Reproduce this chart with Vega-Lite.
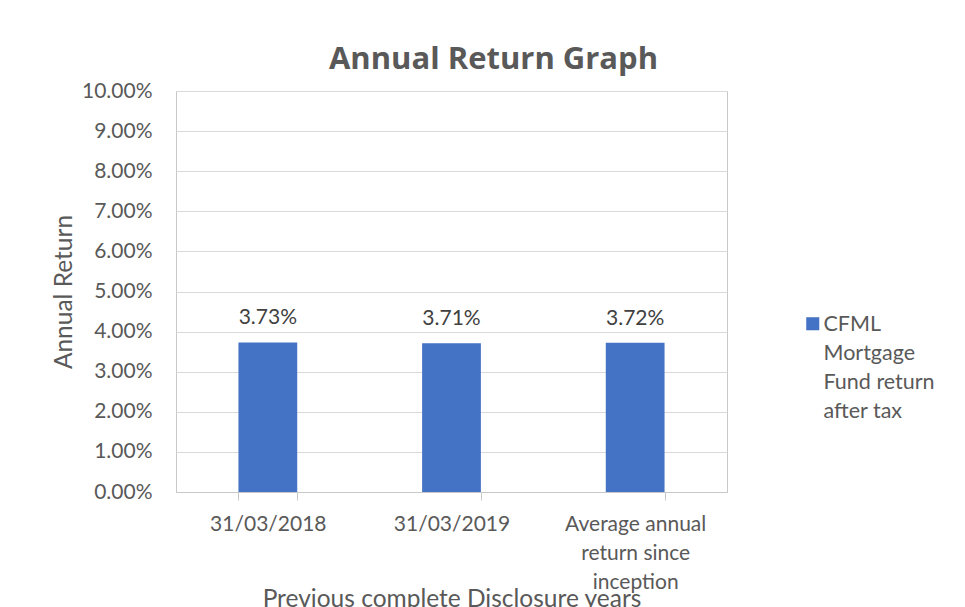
{
  "$schema": "https://vega.github.io/schema/vega-lite/v6.json",
  "autosize": {"type": "none"},
  "width": 551,
  "height": 401,
  "padding": {"left": 176, "top": 91, "right": 238, "bottom": 115},
  "background": "white",
  "config": {
    "font": "Lato",
    "view": {"stroke": "#c8c8c8", "strokeWidth": 1}
  },
  "title": {
    "text": "Annual Return Graph",
    "font": "Open Sans",
    "fontSize": 31,
    "fontWeight": "bold",
    "color": "#595959",
    "anchor": "middle",
    "dx": 42,
    "offset": 4
  },
  "data": {
    "values": [
      {"period": "31/03/2018", "value": 0.0373, "series": "CFML Mortgage Fund return after tax"},
      {"period": "31/03/2019", "value": 0.0371, "series": "CFML Mortgage Fund return after tax"},
      {"period": "Average annual return since inception", "value": 0.0372, "series": "CFML Mortgage Fund return after tax"}
    ]
  },
  "encoding": {
    "x": {
      "field": "period",
      "type": "nominal",
      "sort": null,
      "scale": {"paddingInner": 0.68, "paddingOuter": 0.34},
      "axis": {
        "title": "Previous complete Disclosure years",
        "titleFont": "Lato",
        "titleFontSize": 24.5,
        "titleFontWeight": "normal",
        "titleColor": "#595959",
        "titleBaseline": "alphabetic",
        "titleY": 114,
        "labelAngle": 0,
        "labelFont": "Lato",
        "labelFontSize": 21,
        "labelColor": "#595959",
        "labelPadding": 13,
        "labelLineHeight": 29,
        "labelLimit": 300,
        "labelExpr": "datum.value == 'Average annual return since inception' ? ['Average annual', 'return since', 'inception'] : datum.label",
        "domainColor": "#c8c8c8",
        "tickColor": "#c8c8c8",
        "tickSize": 8,
        "tickBand": "extent",
        "grid": false
      }
    },
    "y": {
      "field": "value",
      "type": "quantitative",
      "scale": {"domain": [0, 0.1]},
      "axis": {
        "title": "Annual Return",
        "titleFont": "Lato",
        "titleFontSize": 24.5,
        "titleFontWeight": "normal",
        "titleColor": "#595959",
        "titlePadding": 5,
        "format": ".2%",
        "values": [0, 0.01, 0.02, 0.03, 0.04, 0.05, 0.06, 0.07, 0.08, 0.09, 0.1],
        "labelFont": "Lato",
        "labelFontSize": 21,
        "labelColor": "#595959",
        "labelPadding": 24,
        "ticks": false,
        "domain": false,
        "grid": true,
        "gridColor": "#d9d9d9",
        "gridWidth": 1
      }
    }
  },
  "layer": [
    {
      "mark": {"type": "bar", "color": "#4472C4"},
      "encoding": {
        "color": {
          "field": "series",
          "type": "nominal",
          "scale": {"range": ["#4472C4"]},
          "legend": {
            "title": null,
            "orient": "none",
            "legendX": 626,
            "legendY": 222,
            "symbolType": "square",
            "symbolSize": 170,
            "symbolStrokeWidth": 0,
            "labelFont": "Lato",
            "labelFontSize": 21.5,
            "labelColor": "#595959",
            "labelOffset": 0,
            "labelLimit": 300,
            "labelBaseline": "alphabetic",
            "labelExpr": "['CFML', 'Mortgage', 'Fund return', 'after tax']",
            "encode": {"labels": {"update": {"dy": {"value": 7}, "lineHeight": {"value": 29}}}}
          }
        }
      }
    },
    {
      "mark": {"type": "text", "baseline": "alphabetic", "dy": -18, "font": "Lato", "fontSize": 21, "color": "#404040"},
      "encoding": {
        "text": {"field": "value", "type": "quantitative", "format": ".2%"}
      }
    }
  ]
}
